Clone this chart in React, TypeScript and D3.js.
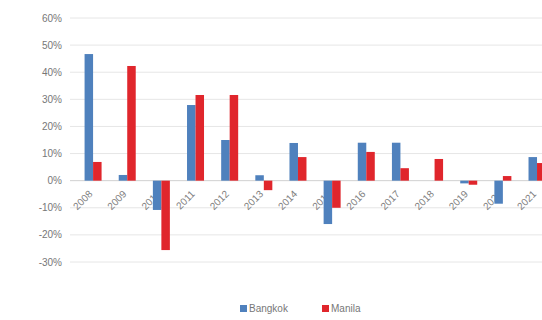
import React from 'react';
import * as d3 from 'd3';

const years = ['2008', '2009', '2010', '2011', '2012', '2013', '2014', '2015', '2016', '2017', '2018', '2019', '2020', '2021'];
const bangkok = [46.7, 2.1, -10.8, 27.9, 15, 2, 13.9, -16, 14, 14, 0, -1, -8.5, 8.7];
const manila = [6.9, 42.3, -25.6, 31.6, 31.6, -3.5, 8.7, -10, 10.6, 4.6, 8, -1.5, 1.7, 6.5];
const yTicks = [60, 50, 40, 30, 20, 10, 0, -10, -20, -30];
const seriesNames = ['Bangkok', 'Manila'];
const colors = ['#4f81bd', '#e0262c'];

const W = 600;
const H = 320;
const font = '"Liberation Sans", Arial, sans-serif';

const App = () => {
  const x = d3.scaleBand().domain(years).range([76, 76 + years.length * 34.15]);
  const y = d3.scaleLinear().domain([-30, 60]).range([262, 18]);
  const barW = 8.5;
  const series = [bangkok, manila];

  return (
    <div style={{ position: 'fixed', left: 0, top: 0, width: 542, height: 320, overflow: 'hidden', background: '#fff' }}>
      <svg width={W} height={H} style={{ display: 'block', fontFamily: font }}>
        {yTicks.map(t => (
          <g key={t}>
            <line x1={70} x2={W} y1={y(t)} y2={y(t)} stroke={t === 0 ? '#d0d0d0' : '#e6e6e6'} strokeWidth={1} />
            <text x={62} y={y(t)} dy="0.35em" textAnchor="end" fontSize={10} fill="#777">{t + '%'}</text>
          </g>
        ))}
        {/* category labels sit under the bars, like the original */}
        {years.map(yr => {
          const cx = x(yr)! + x.bandwidth() / 2;
          return (
            <text key={yr} transform={`translate(${cx},${y(0) + 14}) rotate(-45)`}
              textAnchor="end" fontSize={10} fill="#808080">{yr}</text>
          );
        })}
        {series.map((vals, si) => (
          <g key={si} fill={colors[si]}>
            {vals.map((v, i) => {
              const cx = x(years[i])! + x.bandwidth() / 2;
              const y0 = y(0);
              const y1 = y(v);
              return (
                <rect key={i}
                  x={cx - barW + si * barW}
                  y={Math.min(y0, y1)}
                  width={barW}
                  height={Math.abs(y1 - y0)} />
              );
            })}
          </g>
        ))}
        <g transform="translate(240,305)">
          <rect x={0} y={0} width={7} height={7} fill={colors[0]} />
          <text x={9} y={7} fontSize={10} fill="#777">{seriesNames[0]}</text>
          <rect x={82} y={0} width={7} height={7} fill={colors[1]} />
          <text x={91} y={7} fontSize={10} fill="#777">{seriesNames[1]}</text>
        </g>
      </svg>
    </div>
  );
};

export default App;
